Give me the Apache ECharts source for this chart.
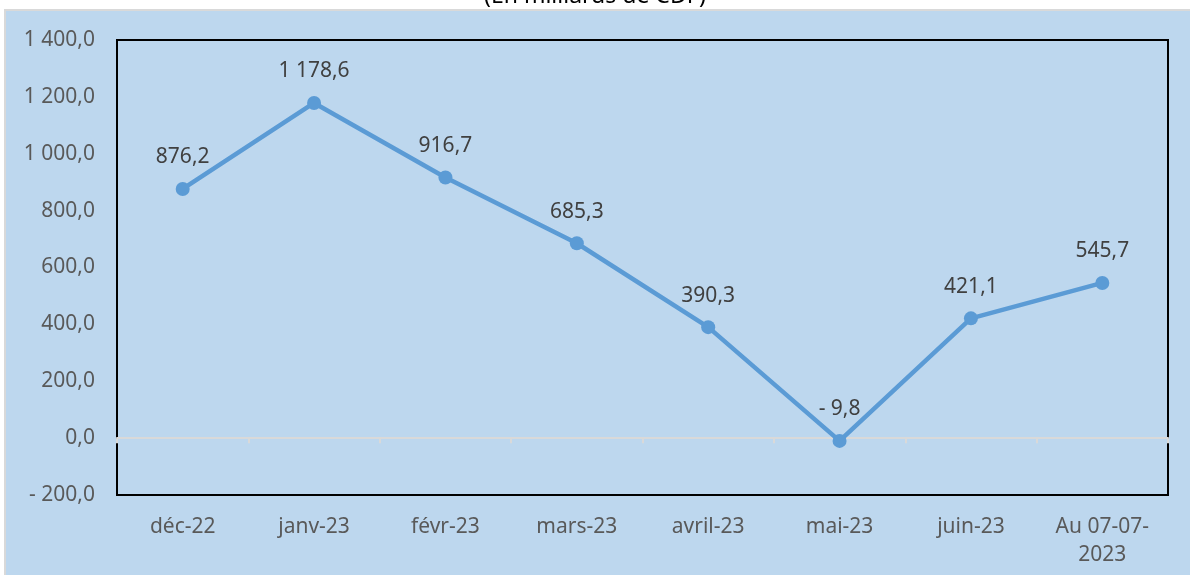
<!DOCTYPE html>
<html>
<head>
<meta charset="utf-8">
<script src="https://cdn.jsdelivr.net/npm/echarts@6/dist/echarts.min.js"></script>
<style>
  html, body { margin: 0; padding: 0; background: #fff; }
  #chart { width: 1190px; height: 575px; }
</style>
</head>
<body>
<div id="chart"></div>
<script>
// données (en milliards de CDF)
const categories = ['déc-22', 'janv-23', 'févr-23', 'mars-23', 'avril-23', 'mai-23', 'juin-23', 'Au 07-07-\n2023']
const values = [876.2, 1178.6, 916.7, 685.3, 390.3, -9.8, 421.1, 545.7]
const yTicks = [-200, 0, 200, 400, 600, 800, 1000, 1200, 1400]

// format français : espace pour les milliers, virgule décimale, "- " pour négatif
function fmt(v, dec) {
  const neg = v < 0
  const s = Math.abs(v).toFixed(dec).split('.')
  const int = s[0].replace(/\B(?=(\d{3})+(?!\d))/g, ' ')
  return (neg ? '- ' : '') + int + ',' + s[1]
}

const chart = echarts.init(document.getElementById('chart'))
const font = 'Noto Sans'

const option = {
  animation: false,
  backgroundColor: '#fff',
  graphic: [
    {
      type: 'rect',
      shape: { x: 5, y: 10, width: 1190, height: 570 },
      style: { fill: '#BDD7EE', stroke: '#D9D9D9', lineWidth: 2 },
      z: -10
    },
    {
      type: 'text',
      x: 595, y: 8,
      style: { text: '(En milliards de CDF)', fill: '#000', font: '23px ' + font, align: 'center', verticalAlign: 'bottom' },
      z: -5
    }
  ],
  grid: { left: 117, right: 22, top: 40, bottom: 80, show: true, borderColor: '#000', borderWidth: 2 },
  xAxis: {
    type: 'category',
    data: categories,
    boundaryGap: true,
    axisLine: { onZero: true, lineStyle: { color: '#D9D9D9', width: 2 } },
    axisTick: { show: true, length: 5, lineStyle: { color: '#D9D9D9', width: 2 } },
    axisLabel: {
      color: '#595959', fontFamily: font, fontSize: 21, lineHeight: 28,
      interval: 0, margin: 18
    }
  },
  yAxis: {
    type: 'value',
    min: -200, max: 1400, interval: 200,
    axisLine: { show: false },
    axisTick: { show: false },
    splitLine: { show: false },
    axisLabel: {
      color: '#595959', fontFamily: font, fontSize: 21, margin: 22,
      formatter: v => yTicks.includes(v) ? fmt(v, 1) : ''
    }
  },
  series: [{
    type: 'line',
    data: values,
    symbol: 'circle',
    symbolSize: 14,
    lineStyle: { color: '#5B9BD5', width: 4.5 },
    itemStyle: { color: '#5B9BD5' },
    label: {
      show: true, position: 'top', distance: 14,
      color: '#404040', fontFamily: font, fontSize: 21,
      formatter: p => fmt(p.value, 1)
    }
  }]
}

option && chart.setOption(option)
</script>
</body>
</html>
